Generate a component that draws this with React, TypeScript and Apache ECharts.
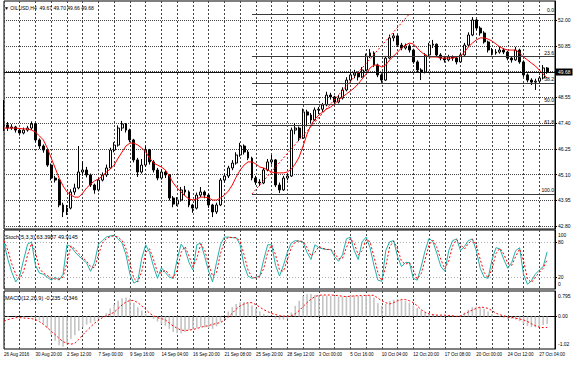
import React, { useEffect, useRef } from 'react';
import * as echarts from 'echarts';

// ---------- data ----------
const DATE_LABELS = ['26 Aug 2016', '30 Aug 20:00', '2 Sep 12:00', '7 Sep 00:00', '9 Sep 16:00', '14 Sep 04:00', '16 Sep 20:00', '21 Sep 08:00', '25 Sep 20:00', '28 Sep 12:00', '3 Oct 00:00', '5 Oct 16:00', '10 Oct 04:00', '12 Oct 20:00', '17 Oct 08:00', '20 Oct 00:00', '24 Oct 12:00', '27 Oct 04:00'];
const SLOT_COUNT = 141;
const PRICE_TICKS = [52.0, 50.85, 49.7, 48.55, 47.4, 46.25, 45.1, 43.95, 42.8];
const STOCH_LABELS = [100, 80, 20, 0];
const STOCH_LEVELS = [80, 20];
const MACD_LABELS = [0.795, 0, -1.02];
const LAST_PRICE = 49.68;
const FIB_NAMES = ['0.0', '23.6', '38.2', '50.0', '61.8', '100.0'];
const FIB_PRICES = [52.27, 50.38, 49.2, 48.26, 47.31, 44.24];
const FIB_FROM = 63;
const FIB_TO = 103;
const TITLE_MAIN = '\u25BC OILUSD,H4  49.67 49.70 49.66 49.68';
const TITLE_STOCH = 'Stoch(5,3,3) 63.3987 49.9145';
const TITLE_MACD = 'MACD(12,26,9) -0.235 -0.346';

// [open, high, low, close]
const OHLC: number[][] = [
  [47.30, 48.43, 47.05, 47.32], [47.32, 47.45, 47.05, 47.18], [47.18, 47.35, 47.10, 47.23], [47.23, 47.28, 46.98, 47.09], [47.09, 47.15, 46.85, 46.96],
  [46.96, 47.20, 46.90, 47.09], [47.09, 47.28, 47.02, 47.18], [47.18, 47.48, 47.10, 47.36], [47.36, 47.40, 46.55, 46.65], [46.65, 46.72, 46.25, 46.38],
  [46.38, 46.45, 46.08, 46.20], [46.20, 46.28, 45.45, 45.53], [45.53, 45.60, 44.85, 44.95], [44.95, 45.05, 44.75, 44.86], [44.86, 44.92, 43.65, 43.75],
  [43.75, 43.85, 43.21, 43.44], [43.44, 43.75, 43.30, 43.61], [43.61, 44.45, 43.55, 44.33], [44.33, 44.70, 44.20, 44.51], [44.51, 46.38, 44.45, 45.22],
  [45.22, 45.70, 45.05, 45.31], [45.31, 45.45, 44.98, 45.09], [45.09, 45.15, 44.55, 44.64], [44.64, 44.70, 44.25, 44.42], [44.42, 44.95, 44.35, 44.86],
  [44.86, 45.20, 44.80, 45.09], [45.09, 45.55, 45.00, 45.40], [45.40, 46.30, 45.35, 46.20], [46.20, 46.55, 46.10, 46.42], [46.42, 47.30, 46.35, 47.18],
  [47.18, 47.50, 47.05, 47.36], [47.36, 47.40, 46.98, 47.09], [47.09, 47.15, 46.55, 46.65], [46.65, 46.70, 45.65, 45.76], [45.76, 45.85, 45.00, 45.22],
  [45.22, 45.80, 45.15, 45.53], [45.53, 46.40, 45.45, 46.20], [46.20, 46.25, 45.55, 45.67], [45.67, 45.75, 45.20, 45.31], [45.31, 45.40, 44.85, 44.95],
  [44.95, 45.35, 44.88, 45.22], [45.22, 45.30, 44.95, 45.09], [45.09, 45.12, 43.95, 44.06], [44.06, 44.15, 43.65, 43.79], [43.79, 44.10, 43.70, 43.97],
  [43.97, 44.55, 43.90, 44.42], [44.42, 44.60, 44.20, 44.33], [44.33, 44.40, 43.65, 43.75], [43.75, 43.80, 43.40, 43.61], [43.61, 44.30, 43.55, 44.19],
  [44.19, 44.55, 44.10, 44.33], [44.33, 44.40, 44.05, 44.19], [44.19, 44.25, 43.62, 43.75], [43.75, 43.80, 43.21, 43.44], [43.44, 43.85, 43.35, 43.75],
  [43.75, 44.95, 43.70, 44.86], [44.86, 45.15, 44.75, 45.04], [45.04, 45.50, 44.95, 45.40], [45.40, 45.75, 45.30, 45.62], [45.62, 46.10, 45.55, 45.98],
  [45.98, 46.52, 45.90, 46.38], [46.38, 46.45, 46.00, 46.11], [46.11, 46.20, 45.75, 45.84], [45.84, 45.90, 44.85, 44.95], [44.95, 45.05, 44.65, 44.77],
  [44.77, 44.90, 44.60, 44.73], [44.73, 45.40, 44.68, 45.31], [45.31, 45.80, 45.25, 45.67], [45.67, 45.98, 45.55, 45.76], [45.76, 45.80, 44.55, 44.64],
  [44.64, 44.75, 44.28, 44.42], [44.42, 45.05, 44.38, 44.95], [44.95, 45.15, 44.85, 45.04], [45.04, 47.20, 45.00, 47.09], [47.09, 47.40, 46.90, 47.18],
  [47.18, 47.25, 46.60, 46.74], [46.74, 48.05, 46.70, 47.90], [47.90, 48.00, 47.25, 47.76], [47.76, 47.85, 47.40, 47.54], [47.54, 48.10, 47.50, 47.99],
  [47.99, 48.12, 47.80, 48.02], [48.02, 48.30, 47.90, 48.21], [48.21, 48.80, 48.15, 48.65], [48.65, 48.75, 48.45, 48.57], [48.57, 48.62, 48.25, 48.34],
  [48.34, 48.65, 48.28, 48.52], [48.52, 49.00, 48.45, 48.88], [48.88, 49.45, 48.82, 49.32], [49.32, 49.68, 49.25, 49.55], [49.55, 49.78, 49.40, 49.64],
  [49.64, 49.70, 49.30, 49.46], [49.46, 49.90, 49.42, 49.77], [49.77, 50.50, 49.72, 50.39], [50.39, 50.70, 50.30, 50.53], [50.53, 50.60, 49.90, 49.99],
  [49.99, 50.05, 49.45, 49.55], [49.55, 49.62, 49.20, 49.32], [49.32, 50.40, 49.28, 50.30], [50.30, 51.35, 50.25, 51.20], [51.20, 51.42, 51.05, 51.29],
  [51.29, 51.35, 50.80, 50.88], [50.88, 50.98, 50.65, 50.75], [50.75, 50.95, 50.68, 50.84], [50.84, 50.92, 50.55, 50.66], [50.66, 50.72, 50.05, 50.13],
  [50.13, 50.20, 49.68, 49.77], [49.77, 49.85, 49.32, 49.68], [49.68, 50.52, 49.62, 50.44], [50.44, 50.98, 50.38, 50.88], [50.88, 51.11, 50.75, 50.92],
  [50.92, 50.95, 50.35, 50.44], [50.44, 50.52, 50.20, 50.30], [50.30, 50.40, 50.10, 50.22], [50.22, 50.45, 50.15, 50.35], [50.35, 50.42, 50.18, 50.30],
  [50.30, 50.38, 50.02, 50.13], [50.13, 50.55, 50.08, 50.44], [50.44, 50.98, 50.40, 50.88], [50.88, 51.45, 50.82, 51.33], [51.33, 52.13, 51.28, 52.00],
  [52.00, 52.05, 51.55, 51.64], [51.64, 51.72, 51.30, 51.42], [51.42, 51.50, 50.95, 51.02], [51.02, 51.08, 50.55, 50.66], [50.66, 50.75, 50.42, 50.53],
  [50.53, 50.70, 50.45, 50.57], [50.57, 50.80, 50.50, 50.66], [50.66, 50.75, 50.48, 50.57], [50.57, 50.62, 50.20, 50.30], [50.30, 50.35, 50.10, 50.22],
  [50.22, 50.80, 50.18, 50.66], [50.66, 50.72, 50.05, 50.13], [50.13, 50.20, 49.45, 49.55], [49.55, 49.62, 49.22, 49.32], [49.32, 49.40, 49.10, 49.23],
  [49.23, 49.38, 48.88, 49.27], [49.27, 49.50, 49.15, 49.41], [49.41, 49.99, 49.35, 49.86], [49.86, 49.90, 49.60, 49.68],
];

const MA = [
  47.18, 47.18, 47.18, 47.18, 47.16, 47.14, 47.14, 47.09, 47.00, 46.83,
  46.65, 46.29, 45.84, 45.40, 44.95, 44.60, 44.33, 44.19, 44.10, 44.10,
  44.28, 44.51, 44.68, 44.82, 44.91, 45.04, 45.22, 45.35, 45.53, 45.84,
  46.11, 46.38, 46.51, 46.51, 46.42, 46.29, 46.11, 45.84, 45.62, 45.53,
  45.44, 45.31, 45.04, 44.73, 44.51, 44.33, 44.15, 44.02, 43.97, 44.02,
  44.10, 44.10, 44.06, 43.97, 43.97, 44.06, 44.19, 44.37, 44.64, 45.00,
  45.31, 45.53, 45.67, 45.67, 45.58, 45.44, 45.40, 45.31, 45.22, 45.18,
  45.18, 45.18, 45.22, 45.35, 45.58, 45.89, 46.38, 46.91, 47.32, 47.58,
  47.76, 47.90, 48.03, 48.12, 48.25, 48.43, 48.57, 48.70, 48.83, 48.97,
  49.15, 49.37, 49.59, 49.86, 49.99, 49.99, 49.90, 49.99, 50.22, 50.39,
  50.57, 50.75, 50.88, 50.97, 50.93, 50.75, 50.57, 50.44, 50.35, 50.35,
  50.35, 50.30, 50.30, 50.30, 50.30, 50.35, 50.39, 50.57, 50.80, 50.97,
  51.11, 51.20, 51.20, 51.15, 51.06, 50.93, 50.80, 50.71, 50.66, 50.66,
  50.66, 50.53, 50.35, 50.22, 50.08, 49.95, 49.77, 49.59, 49.41,
];

const STOCH_MAIN = [
  78, 50, 28, 12, 22, 50, 76, 80, 40, 27, 25, 20, 15, 20, 15, 25, 75, 72, 63, 56,
  50, 44, 30, 45, 76, 82, 88, 90, 91, 85, 78, 58, 25, 10, 14, 52, 75, 62, 38, 18,
  36, 28, 20, 18, 50, 76, 67, 45, 32, 75, 78, 55, 30, 12, 45, 75, 88, 88, 87, 87,
  75, 40, 22, 18, 20, 22, 50, 75, 75, 40, 22, 40, 62, 78, 82, 81, 79, 62, 50, 75,
  70, 68, 67, 67, 55, 47, 58, 85, 88, 65, 50, 80, 88, 70, 40, 15, 13, 65, 80, 82,
  55, 38, 45, 45, 18, 15, 38, 65, 86, 80, 60, 38, 30, 65, 82, 85, 65, 72, 82, 85,
  65, 35, 20, 18, 50, 70, 68, 50, 35, 45, 65, 70, 25, 8, 14, 25, 32, 38, 63,
];
const STOCH_SIGNAL = [
  82, 65, 42, 25, 17, 30, 58, 77, 62, 35, 27, 23, 18, 17, 17, 20, 45, 73, 68, 60,
  53, 47, 38, 36, 58, 78, 85, 89, 90, 88, 82, 68, 42, 18, 12, 30, 62, 68, 50, 28,
  27, 32, 24, 19, 32, 62, 72, 56, 38, 52, 76, 66, 42, 22, 28, 60, 80, 88, 87, 87,
  81, 58, 32, 20, 19, 21, 35, 62, 75, 58, 32, 30, 50, 70, 80, 82, 80, 70, 56, 62,
  72, 69, 67, 67, 61, 51, 52, 70, 86, 77, 58, 65, 84, 80, 55, 28, 14, 38, 72, 81,
  68, 47, 42, 45, 32, 17, 26, 50, 75, 83, 70, 50, 34, 48, 73, 84, 75, 68, 77, 84,
  75, 50, 28, 19, 34, 60, 69, 59, 43, 40, 55, 68, 48, 17, 11, 20, 28, 35, 50,
];

const MACD_HIST = [
  -0.04, -0.02, 0, 0.02, 0, -0.02, 0, 0.02, -0.04, -0.12,
  -0.23, -0.37, -0.57, -0.76, -0.90, -0.95, -0.88, -0.70, -0.59, -0.45,
  -0.34, -0.26, -0.21, -0.15, -0.07, 0.02, 0.10, 0.25, 0.37, 0.49,
  0.57, 0.59, 0.56, 0.43, 0.29, 0.18, 0.08, 0, -0.08, -0.16,
  -0.23, -0.29, -0.39, -0.49, -0.53, -0.53, -0.49, -0.43, -0.41, -0.37,
  -0.33, -0.34, -0.37, -0.39, -0.31, -0.16, 0, 0.15, 0.29, 0.39,
  0.45, 0.45, 0.41, 0.34, 0.25, 0.15, 0.08, 0.04, 0, -0.07,
  -0.10, -0.10, -0.07, 0.12, 0.33, 0.49, 0.64, 0.69, 0.70, 0.67,
  0.66, 0.66, 0.65, 0.64, 0.64, 0.62, 0.62, 0.64, 0.66, 0.66,
  0.64, 0.64, 0.66, 0.66, 0.59, 0.41, 0.33, 0.39, 0.48, 0.52,
  0.54, 0.52, 0.49, 0.43, 0.34, 0.26, 0.18, 0.12, 0.08, 0.07,
  0.05, 0.03, 0.02, 0.02, 0.02, 0, 0.04, 0.12, 0.21, 0.29,
  0.31, 0.29, 0.23, 0.15, 0.07, 0, -0.03, -0.05, -0.07, -0.08,
  -0.10, -0.15, -0.23, -0.30, -0.33, -0.34, -0.33, -0.27, -0.235,
];
const MACD_SIGNAL = [
  -0.15, -0.10, -0.07, -0.04, -0.04, -0.05, -0.06, -0.07, -0.10, -0.16,
  -0.25, -0.35, -0.47, -0.57, -0.69, -0.79, -0.84, -0.87, -0.84, -0.72,
  -0.58, -0.45, -0.33, -0.21, -0.12, -0.04, 0.02, 0.07, 0.13, 0.25,
  0.36, 0.45, 0.50, 0.50, 0.43, 0.33, 0.22, 0.10, 0.02, -0.04,
  -0.07, -0.11, -0.21, -0.30, -0.37, -0.43, -0.44, -0.43, -0.41, -0.38,
  -0.34, -0.31, -0.29, -0.25, -0.22, -0.19, -0.12, -0.02, 0.10, 0.23,
  0.33, 0.39, 0.43, 0.43, 0.37, 0.29, 0.21, 0.15, 0.09, 0.06,
  0.02, 0.01, 0, 0.02, 0.08, 0.18, 0.31, 0.43, 0.54, 0.62,
  0.66, 0.67, 0.67, 0.67, 0.66, 0.65, 0.63, 0.62, 0.63, 0.64,
  0.65, 0.65, 0.66, 0.66, 0.66, 0.57, 0.49, 0.43, 0.39, 0.43,
  0.49, 0.53, 0.53, 0.49, 0.43, 0.33, 0.21, 0.13, 0.08, 0.05,
  0.04, 0.04, 0.04, 0.03, 0.02, 0, 0.02, 0.08, 0.14, 0.20,
  0.25, 0.29, 0.28, 0.25, 0.18, 0.10, 0.05, 0.02, -0.02, -0.03,
  -0.06, -0.08, -0.11, -0.16, -0.23, -0.29, -0.34, -0.35, -0.346,
];

// ---------- styling ----------
const FONT = "'Liberation Sans',Arial,sans-serif";
const GRID_COLOR = '#444444';
const SLOTS = Array.from({ length: SLOT_COUNT }, (_, i) => String(i));
const isLabelSlot = (i: number) => i % 8 === 0;
const isGridSlot = (i: number) => i % 4 === 0;

function xAxisFor(g: number, bottom: boolean) {
  return {
    type: 'category',
    gridIndex: g,
    data: SLOTS,
    boundaryGap: false,
    axisLine: { show: bottom, lineStyle: { color: '#000', width: 1 } },
    axisTick: { show: bottom, interval: (i: number) => isLabelSlot(i), length: 2, lineStyle: { color: '#000' } },
    axisLabel: {
      show: bottom,
      interval: (i: number) => isLabelSlot(i),
      formatter: (_v: string, i: number) => (isLabelSlot(i) ? DATE_LABELS[i / 8] ?? '' : ''),
      align: 'left',
      fontSize: 4.5,
      fontFamily: FONT,
      color: '#000',
      margin: 3,
    },
    splitLine: { show: true, interval: (i: number) => isGridSlot(i), lineStyle: { color: GRID_COLOR, type: [2, 2], width: 1 } },
  };
}

const labelBase = { fontSize: 5, fontFamily: FONT, color: '#000', margin: 3 };
const edgeRich = {
  dn: { padding: [10, 0, 0, 0], fontSize: 5, fontFamily: FONT, color: '#000' },
  up: { padding: [0, 0, 10, 0], fontSize: 5, fontFamily: FONT, color: '#000' },
};
const titleStyle = (size: number) => ({ fontSize: size, fontWeight: 'normal', fontFamily: FONT, color: '#000' });

const option: any = {
  animation: false,
  backgroundColor: '#ffffff',
  title: [
    { text: TITLE_MAIN, left: 4, top: 5, padding: 0, textStyle: titleStyle(5) },
    { text: TITLE_STOCH, left: 5, top: 234, padding: 0, textStyle: titleStyle(5.5) },
    { text: TITLE_MACD, left: 5, top: 295, padding: 0, textStyle: titleStyle(5.5) },
  ],
  grid: [
    { left: 4, right: 22, top: 1, height: 228, show: true, borderColor: '#000', borderWidth: 1, backgroundColor: 'transparent' },
    { left: 4, right: 22, top: 230, height: 59, show: true, borderColor: '#000', borderWidth: 1, backgroundColor: 'transparent' },
    { left: 4, right: 22, top: 291, height: 58, show: true, borderColor: '#000', borderWidth: 1, backgroundColor: 'transparent' },
  ],
  xAxis: [xAxisFor(0, false), xAxisFor(1, false), xAxisFor(2, true)],
  yAxis: [
    {
      type: 'value', gridIndex: 0, position: 'right', min: 42.678, max: 52.847, scale: true,
      axisLine: { show: true, lineStyle: { color: '#000' } },
      axisTick: { show: true, customValues: PRICE_TICKS, length: 2, lineStyle: { color: '#000' } },
      axisLabel: { ...labelBase, customValues: PRICE_TICKS, formatter: (v: number) => v.toFixed(2) },
      splitLine: { show: true, lineStyle: { color: GRID_COLOR, type: [1, 1], width: 1 } },
    },
    {
      type: 'value', gridIndex: 1, position: 'right', min: 0, max: 100,
      axisLine: { show: true, lineStyle: { color: '#000' } },
      axisTick: { show: true, customValues: STOCH_LEVELS, length: 2, lineStyle: { color: '#000' } },
      axisLabel: {
        ...labelBase, customValues: STOCH_LABELS, rich: edgeRich,
        formatter: (v: number) => (v === 100 ? `{dn|${v}}` : v === 0 ? `{up|${v}}` : String(v)),
      },
      splitLine: { show: true, lineStyle: { color: '#b0b0b0', type: [1, 2], width: 1 } },
    },
    {
      type: 'value', gridIndex: 2, position: 'right', min: -1.02, max: 0.795,
      axisLine: { show: true, lineStyle: { color: '#000' } },
      axisTick: { show: true, customValues: [0], length: 2, lineStyle: { color: '#000' } },
      axisLabel: {
        ...labelBase, customValues: MACD_LABELS, rich: edgeRich,
        formatter: (v: number) => (v === 0 ? '0.00' : v > 0 ? `{dn|${v}}` : `{up|${v}}`),
      },
      splitLine: { show: true, lineStyle: { color: '#333', type: [1, 1], width: 1 } },
    },
  ],
  series: [
    {
      type: 'candlestick', name: 'OILUSD', xAxisIndex: 0, yAxisIndex: 0,
      data: OHLC.map(([o, h, l, c]) => [o, c, l, h]),
      barWidth: 2.4,
      itemStyle: { color: '#ffffff', color0: '#000000', borderColor: '#000000', borderColor0: '#000000', borderWidth: 1 },
      markLine: {
        silent: true, symbol: 'none', animation: false,
        data: [
          {
            yAxis: LAST_PRICE,
            lineStyle: { color: '#111', type: 'solid', width: 1 },
            label: { show: true, position: 'end', distance: 1, formatter: LAST_PRICE.toFixed(2), backgroundColor: '#000', color: '#fff', padding: [1, 2], fontSize: 5, fontFamily: FONT },
          },
          ...FIB_PRICES.map((p, k) => [
            {
              coord: [SLOTS[FIB_FROM], p],
              lineStyle: { color: '#3a3a3a', type: 'solid', width: 1 },
              label: { show: true, position: 'insideEndTop', distance: 1, formatter: FIB_NAMES[k], fontSize: 5, fontFamily: FONT, color: '#000' },
            },
            { coord: [SLOTS[SLOT_COUNT - 1], p] },
          ]),
          [
            { coord: [SLOTS[FIB_FROM], FIB_PRICES[FIB_PRICES.length - 1]], lineStyle: { color: '#ff0000', type: [2, 2], width: 1 }, label: { show: false } },
            { coord: [SLOTS[FIB_TO], FIB_PRICES[0]] },
          ],
        ],
      },
    },
    {
      type: 'line', name: 'MA', xAxisIndex: 0, yAxisIndex: 0, data: MA, symbol: 'none',
      lineStyle: { color: '#ff0000', width: 1 }, z: 3,
    },
    {
      type: 'line', name: 'Stoch', xAxisIndex: 1, yAxisIndex: 1, data: STOCH_MAIN, symbol: 'none',
      lineStyle: { color: '#20b2aa', width: 1 },
    },
    {
      type: 'line', name: 'Signal', xAxisIndex: 1, yAxisIndex: 1, data: STOCH_SIGNAL, symbol: 'none',
      lineStyle: { color: '#ff0000', width: 1, type: [2, 2] },
    },
    {
      type: 'bar', name: 'MACD', xAxisIndex: 2, yAxisIndex: 2, data: MACD_HIST, barWidth: 1.6,
      itemStyle: { color: '#c4c4c4' },
    },
    {
      type: 'line', name: 'MACD signal', xAxisIndex: 2, yAxisIndex: 2, data: MACD_SIGNAL, symbol: 'none',
      lineStyle: { color: '#ff0000', width: 1, type: [2, 2] }, z: 3,
    },
  ],
};

export default function App() {
  const ref = useRef<HTMLDivElement>(null);
  useEffect(() => {
    if (!ref.current) return;
    const chart = echarts.init(ref.current, undefined, { renderer: 'svg' });
    chart.setOption(option);
    return () => chart.dispose();
  }, []);
  return <div ref={ref} style={{ position: 'fixed', left: 0, top: 0, width: 577, height: 368, background: '#fff' }} />;
}
